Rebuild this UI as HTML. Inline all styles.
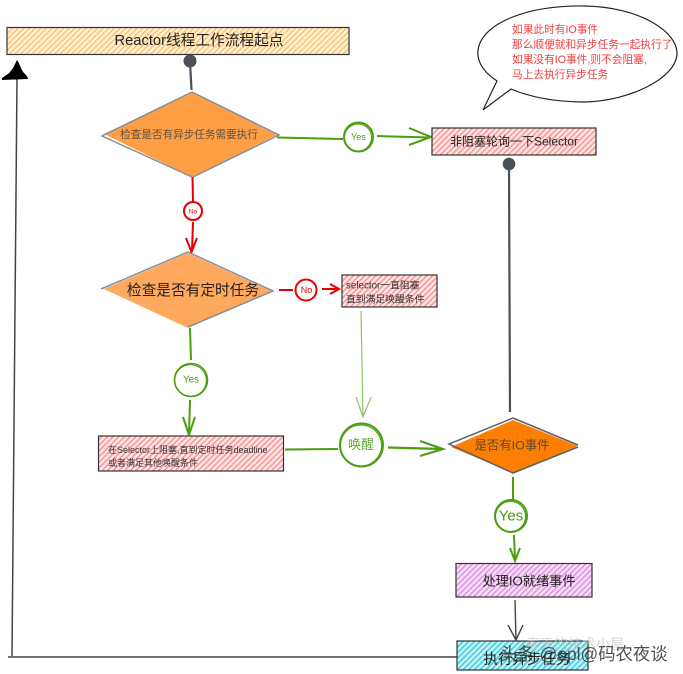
<!DOCTYPE html>
<html><head><meta charset="utf-8"><style>
html,body{margin:0;padding:0;background:#fff}
svg{display:block;filter:blur(.35px)}
text{font-family:"Liberation Sans","Noto Sans CJK SC",sans-serif;dominant-baseline:central}
</style></head><body>
<svg width="683" height="674" viewBox="0 0 683 674" xmlns="http://www.w3.org/2000/svg">
<defs>
<pattern id="y" width="4" height="4" patternUnits="userSpaceOnUse" patternTransform="rotate(45)"><rect width="4" height="4" fill="#fff3dc"/><rect width="1.7" height="4" fill="#fbc878"/></pattern>
<pattern id="p" width="4" height="4" patternUnits="userSpaceOnUse" patternTransform="rotate(45)"><rect width="4" height="4" fill="#ffe9e9"/><rect width="1.7" height="4" fill="#fa9a9a"/></pattern>
<pattern id="v" width="4" height="4" patternUnits="userSpaceOnUse" patternTransform="rotate(45)"><rect width="4" height="4" fill="#f8e4f8"/><rect width="1.9" height="4" fill="#e59be5"/></pattern>
<pattern id="t" width="4" height="4" patternUnits="userSpaceOnUse" patternTransform="rotate(45)"><rect width="4" height="4" fill="#d5f6fa"/><rect width="2" height="4" fill="#55d3e3"/></pattern>
</defs>
<rect width="683" height="674" fill="#fff"/>

<!-- return line -->
<path d="M457 657L8 657M12 656L17 78" fill="none" stroke="#444" stroke-width="1.500"/>
<path d="M17 60C20 64 21 70 24 73C26 75 28 77 28 79L2 80C1 77 8 75 10 72C13 69 15 64 17 60Z" fill="#000"/>

<!-- top box -->
<rect x="7" y="27.500" width="342" height="27" fill="url(#y)" stroke="#333" stroke-width="1.200"/>
<text x="199" y="41" font-size="14.700" text-anchor="middle" fill="#222">Reactor线程工作流程起点</text>
<circle cx="190" cy="61" r="6.500" fill="#495057"/>
<path d="M190 62L191.500 90" stroke="#495057" stroke-width="2.200"/>

<!-- diamond 1 -->
<path d="M192 92L277 135L192 177L104 134Z" fill="#ff9f45"/>
<path d="M192 92L279 135L193 177M192 92L102 136L192 177" fill="none" stroke="#868e96" stroke-width="1.500"/>
<text x="189" y="135" font-size="10.600" text-anchor="middle" fill="#5c5040">检查是否有异步任务需要执行</text>

<!-- green yes 1 -->
<g fill="none" stroke="#4a9e10" stroke-width="2">
<path d="M277 137.500L343 139M377 136L430 137.500M409 128L431 137L409 145"/>
<circle cx="358.500" cy="137" r="14.500"/><circle cx="358" cy="137.500" r="13.500" stroke-width="1"/>
</g>
<text x="358.500" y="137" font-size="9" text-anchor="middle" fill="#4a9e10">Yes</text>

<!-- selector box -->
<rect x="432" y="128" width="164" height="27" fill="url(#p)" stroke="#333" stroke-width="1.200"/>
<text x="514" y="141.500" font-size="12" text-anchor="middle" fill="#222">非阻塞轮询一下Selector</text>
<circle cx="509" cy="164" r="6.300" fill="#495057"/>
<path d="M509 165L510 412" stroke="#495057" stroke-width="2.200"/>

<!-- callout -->
<path d="M497 81C480 70 477 58 478 50C482 22 530 5 585 6C640 7 678 32 677 54C676 78 630 101 585 102C555 102 530 97 511 89L483 110Z" fill="#fff" stroke="#222" stroke-width="1.200"/>
<g font-size="10.700" fill="#f03e3e">
<text x="512" y="30">如果此时有IO事件</text>
<text x="512" y="45">那么顺便就和异步任务一起执行了</text>
<text x="512" y="60">如果没有IO事件,则不会阻塞,</text>
<text x="512" y="75">马上去执行异步任务</text>
</g>

<!-- red no 1 -->
<g fill="none" stroke="#e60000" stroke-width="2">
<path d="M192.500 177L193 201M193 222L192 251M186 238L191.500 252L197 238"/>
<circle cx="193" cy="211" r="9"/>
</g>
<text x="193" y="212" font-size="6.500" text-anchor="middle" fill="#e60000">No</text>

<!-- diamond 2 -->
<path d="M188 253L271 291L188 328L104 289Z" fill="#ffa95e"/>
<path d="M188 252L273 291L188 327M188 252L101 289" fill="none" stroke="#868e96" stroke-width="1.500"/>
<text x="193" y="291" font-size="14.700" text-anchor="middle" fill="#222">检查是否有定时任务</text>

<!-- red no 2 -->
<g fill="none" stroke="#e60000" stroke-width="2">
<path d="M279 290L293 290M322 289L338 289M330 284L339 289L330 294"/>
<circle cx="306" cy="290" r="10.500"/>
</g>
<text x="306.500" y="290" font-size="9" text-anchor="middle" fill="#e60000">No</text>

<!-- selector wait box -->
<rect x="342" y="275" width="95" height="32" fill="url(#p)" stroke="#333" stroke-width="1.200"/>
<text x="346" y="286" font-size="9.800" fill="#333">selector一直阻塞</text>
<text x="346" y="300" font-size="9.800" fill="#333">直到满足唤醒条件</text>

<!-- light green -->
<path d="M361 311L363 417M356 397L363 417L371 397" fill="none" stroke="#8fc46a" stroke-width="1.200"/>

<!-- yes 2 -->
<g fill="none" stroke="#4a9e10" stroke-width="2">
<path d="M190 328L191 360M190 400L189 433M183 417L189 435L195 417"/>
<circle cx="191" cy="380" r="16.500" stroke-width="1.600"/>
<circle cx="190.500" cy="380.500" r="15.800" stroke-width="1"/>
</g>
<text x="191" y="380" font-size="10" text-anchor="middle" fill="#4a9e10">Yes</text>

<!-- blocking box -->
<rect x="98.500" y="436" width="185" height="35" fill="url(#p)" stroke="#333" stroke-width="1.200"/>
<text x="108" y="450" font-size="9" fill="#333">在Selector上阻塞,直到定时任务deadline</text>
<text x="108" y="463" font-size="9" fill="#333">或者满足其他唤醒条件</text>

<!-- wake -->
<g fill="none" stroke="#4a9e10" stroke-width="2">
<path d="M285 449.500L338 449"/>
<circle cx="361.500" cy="445" r="21.500"/>
<circle cx="361" cy="445.500" r="20.500" stroke-width="1"/>
<path d="M388 447.500L443 449M420 441L443 449L420 456" stroke-width="2.200"/>
</g>
<text x="361" y="444.500" font-size="13" text-anchor="middle" fill="#5fa83a">唤醒</text>

<!-- diamond 3 -->
<path d="M513 420L578 446L513 473L451 447Z" fill="#fd7e00"/>
<path d="M513 418L578 445M513 418L449 444L513 473L578 447" fill="none" stroke="#5c636a" stroke-width="1.500"/>
<text x="512" y="445.500" font-size="12.400" text-anchor="middle" fill="#5c4a30">是否有IO事件</text>

<!-- yes 3 -->
<g fill="none" stroke="#4a9e10" stroke-width="2">
<path d="M513 477L513 500M514 535L515 560M510 548L515 561L520 548"/>
<circle cx="511" cy="516" r="16"/>
<circle cx="510.500" cy="516.500" r="15" stroke-width="1"/>
</g>
<text x="511" y="516" font-size="15" text-anchor="middle" fill="#4a9e10">Yes</text>

<!-- IO box -->
<rect x="456" y="563.500" width="136" height="33.500" fill="url(#v)" stroke="#333" stroke-width="1.200"/>
<text x="529" y="581" font-size="13.200" text-anchor="middle" fill="#222">处理IO就绪事件</text>

<path d="M515 600L516 640M508 625L516 640L523 625" fill="none" stroke="#444" stroke-width="1.400"/>

<!-- async box -->
<rect x="457" y="641" width="131" height="29" fill="url(#t)" stroke="#333" stroke-width="1.200"/>
<text x="527" y="660" font-size="14.500" text-anchor="middle" fill="#222">执行异步任务</text>

<!-- watermarks -->
<text x="526" y="644" font-size="14" fill="#c4c4c4" opacity=".7">春天的技术小屋</text>
<text x="500" y="654" font-size="17.400" fill="#333" opacity=".85">头条 @opl@码农夜谈</text>
</svg>
</body></html>
